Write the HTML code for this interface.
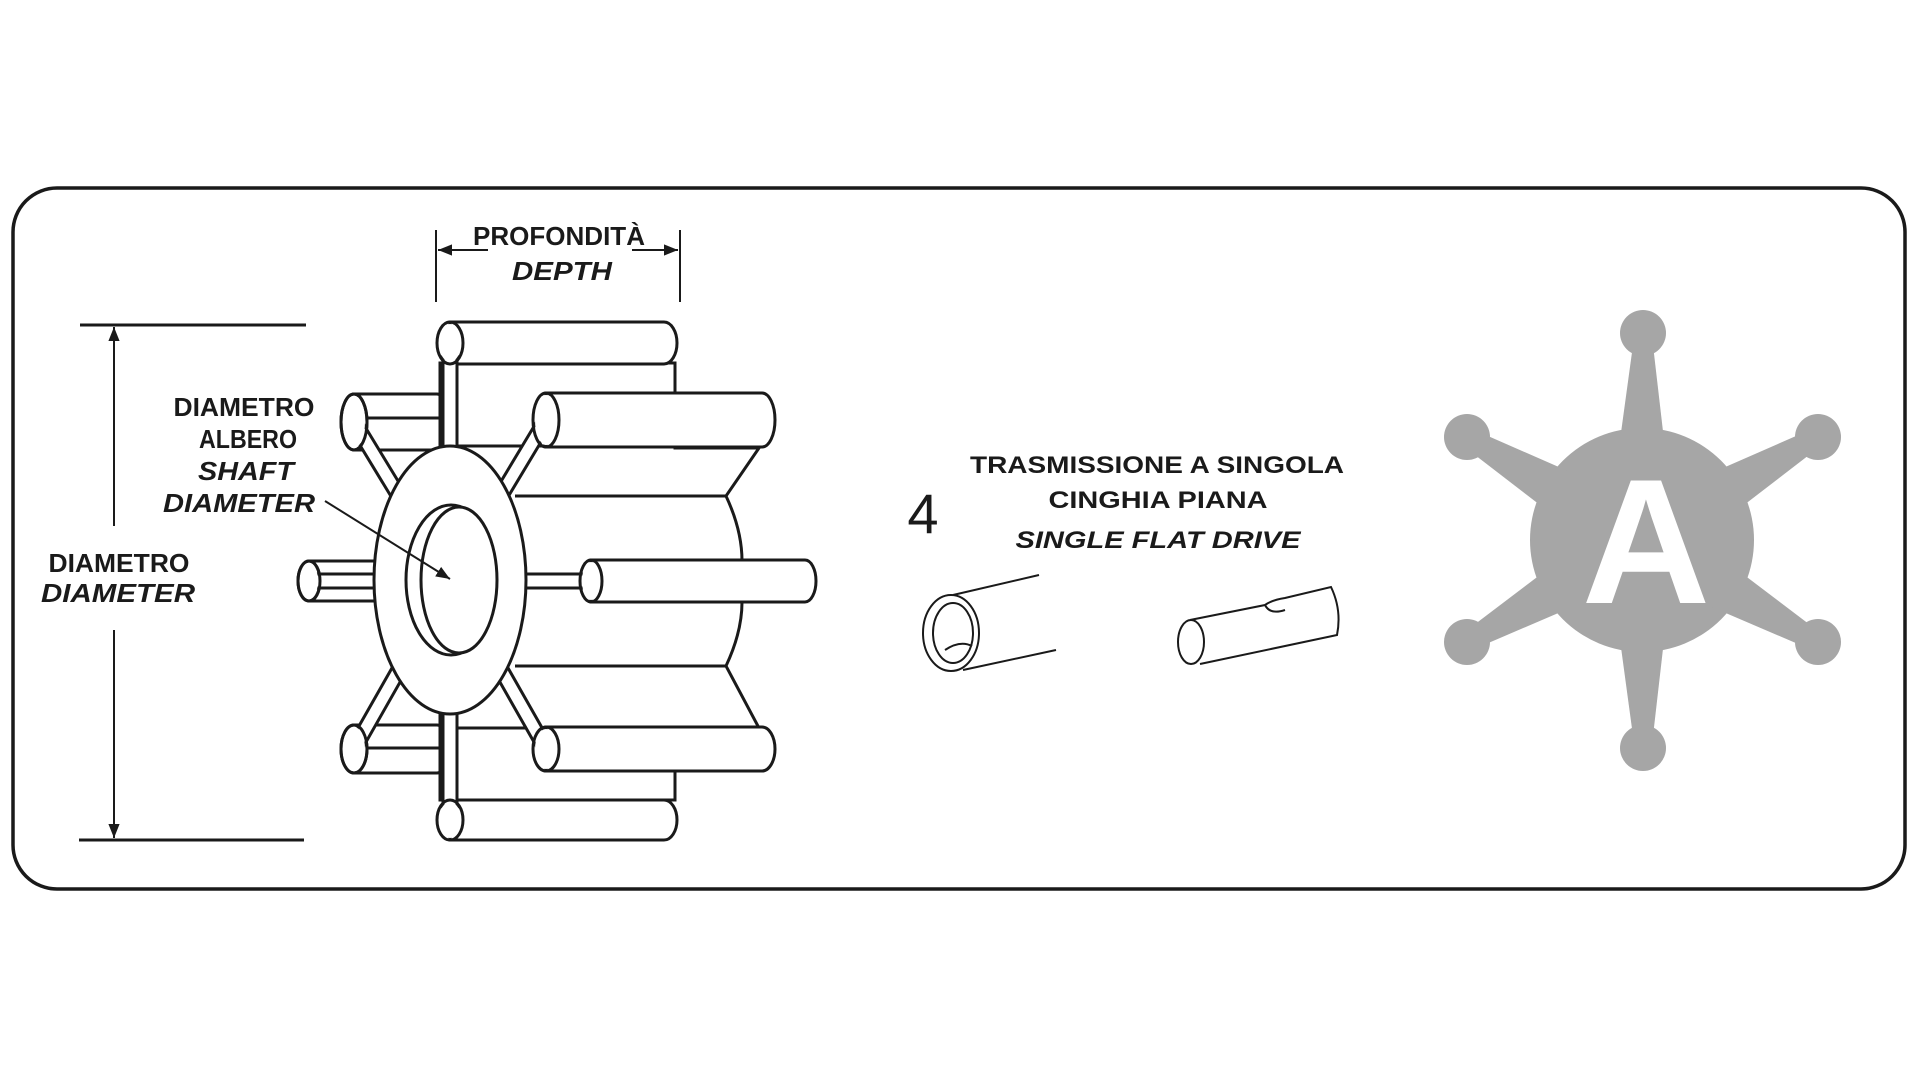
<!DOCTYPE html>
<html><head><meta charset="utf-8"><style>
html,body{margin:0;padding:0;background:#fff;}
svg{display:block;}
text{font-family:"Liberation Sans",sans-serif;font-weight:bold;fill:#1a1a1a;}
.s{fill:#fff;stroke:#1a1a1a;stroke-width:3;}
.l{stroke:#1a1a1a;stroke-width:3;fill:none;}
.t{stroke:#1a1a1a;stroke-width:2;fill:none;}
</style></head><body>
<svg width="1920" height="1080" viewBox="0 0 1920 1080" xmlns="http://www.w3.org/2000/svg">
<defs>
<marker id="ah" viewBox="0 0 10 10" refX="10" refY="5" markerWidth="7" markerHeight="7" orient="auto-start-reverse"><path d="M0,1 L10,5 L0,9 Z" fill="#1a1a1a"/></marker>
</defs>
<rect x="13" y="188" width="1892" height="701" rx="44" fill="#fff" stroke="#1a1a1a" stroke-width="3.5"/>

<!-- depth dimension -->
<line class="t" x1="436" y1="230" x2="436" y2="302"/>
<line class="t" x1="680" y1="230" x2="680" y2="302"/>
<line class="t" x1="488" y1="250" x2="438" y2="250" marker-end="url(#ah)"/>
<line class="t" x1="632" y1="250" x2="678" y2="250" marker-end="url(#ah)"/>
<text x="559" y="245" font-size="26" text-anchor="middle" textLength="172" lengthAdjust="spacingAndGlyphs">PROFONDITÀ</text>
<text x="562" y="280" font-size="26" font-style="italic" text-anchor="middle" textLength="100" lengthAdjust="spacingAndGlyphs">DEPTH</text>

<!-- diameter dimension -->
<line class="l" x1="80" y1="325" x2="306" y2="325"/>
<line class="l" x1="79" y1="840" x2="304" y2="840"/>
<line class="t" x1="114" y1="526" x2="114" y2="327" marker-end="url(#ah)"/>
<line class="t" x1="114" y1="630" x2="114" y2="838" marker-end="url(#ah)"/>
<text x="119" y="572" font-size="26" text-anchor="middle" textLength="141" lengthAdjust="spacingAndGlyphs">DIAMETRO</text>
<text x="118" y="602" font-size="26" font-style="italic" text-anchor="middle" textLength="154" lengthAdjust="spacingAndGlyphs">DIAMETER</text>

<!-- shaft label -->
<text x="244" y="416" font-size="26" text-anchor="middle" textLength="141" lengthAdjust="spacingAndGlyphs">DIAMETRO</text>
<text x="248" y="448" font-size="26" text-anchor="middle" textLength="98" lengthAdjust="spacingAndGlyphs">ALBERO</text>
<text x="246" y="480" font-size="26" font-style="italic" text-anchor="middle" textLength="96" lengthAdjust="spacingAndGlyphs">SHAFT</text>
<text x="239" y="512" font-size="26" font-style="italic" text-anchor="middle" textLength="152" lengthAdjust="spacingAndGlyphs">DIAMETER</text>

<!-- impeller: back blades -->
<path class="s" d="M354,394 H437 A13 28 0 0 1 437,450 H354 Z"/>
<ellipse class="s" cx="354" cy="422" rx="13" ry="28"/>
<line class="l" x1="366" y1="418" x2="450" y2="418"/>
<path class="s" d="M354,725 H437 A13 24 0 0 1 437,773 H354 Z"/>
<ellipse class="s" cx="354" cy="749" rx="13" ry="24"/>
<line class="l" x1="366" y1="748" x2="450" y2="748"/>
<path class="s" d="M309,561 H380 V601 H309 Z"/>
<ellipse class="s" cx="309" cy="581" rx="11" ry="20"/>

<!-- body -->
<path class="s" d="M440,363 H675 V448 H759 L726,496 Q742,530 742,561 L742,602 Q742,632 726,666 L759,728 H675 V800 H440 Z"/>
<line class="l" x1="458" y1="446" x2="675" y2="446"/>
<line class="l" x1="458" y1="728" x2="675" y2="728"/>
<line class="l" x1="515" y1="496" x2="726" y2="496"/>
<line class="l" x1="515" y1="666" x2="726" y2="666"/>

<!-- front blades -->
<path class="s" d="M450,322 H664 A13 21 0 0 1 664,364 H450 Z"/>
<path class="s" d="M450,800 H664 A13 20 0 0 1 664,840 H450 Z"/>
<path class="s" d="M546,393 H762 A13 27 0 0 1 762,447 H546 Z"/>
<path class="s" d="M546,727 H762 A13 22 0 0 1 762,771 H546 Z"/>
<path class="s" d="M591,560 H805 A11 21 0 0 1 805,602 H591 Z"/>

<!-- spokes -->
<g stroke-linecap="round">
<g stroke="#1a1a1a" stroke-width="17">
<line x1="450" y1="343" x2="450" y2="580"/>
<line x1="450" y1="820" x2="450" y2="580"/>
<line x1="309" y1="581" x2="450" y2="581"/>
<line x1="591" y1="581" x2="450" y2="581"/>
<line x1="354" y1="422" x2="450" y2="580"/>
<line x1="546" y1="420" x2="450" y2="580"/>
<line x1="354" y1="749" x2="450" y2="580"/>
<line x1="546" y1="749" x2="450" y2="580"/>
</g>
<g stroke="#fff" stroke-width="11">
<line x1="450" y1="343" x2="450" y2="580"/>
<line x1="450" y1="820" x2="450" y2="580"/>
<line x1="309" y1="581" x2="450" y2="581"/>
<line x1="591" y1="581" x2="450" y2="581"/>
<line x1="354" y1="422" x2="450" y2="580"/>
<line x1="546" y1="420" x2="450" y2="580"/>
<line x1="354" y1="749" x2="450" y2="580"/>
<line x1="546" y1="749" x2="450" y2="580"/>
</g>
</g>
<g fill="none" stroke="#1a1a1a" stroke-width="3">
<ellipse cx="450" cy="343" rx="13" ry="21"/>
<ellipse cx="450" cy="820" rx="13" ry="20"/>
<ellipse cx="546" cy="420" rx="13" ry="27"/>
<ellipse cx="546" cy="749" rx="13" ry="22"/>
<ellipse cx="591" cy="581" rx="11" ry="21"/>
<ellipse cx="354" cy="422" rx="13" ry="28"/>
<ellipse cx="354" cy="749" rx="13" ry="24"/>
<ellipse cx="309" cy="581" rx="11" ry="20"/>
</g>
<g fill="#fff">
<ellipse cx="450" cy="343" rx="11" ry="19"/>
<ellipse cx="450" cy="820" rx="11" ry="18"/>
<ellipse cx="546" cy="420" rx="11" ry="25"/>
<ellipse cx="546" cy="749" rx="11" ry="20"/>
<ellipse cx="591" cy="581" rx="9" ry="19"/>
<ellipse cx="354" cy="422" rx="11" ry="26"/>
<ellipse cx="354" cy="749" rx="11" ry="22"/>
<ellipse cx="309" cy="581" rx="9" ry="18"/>
</g>

<!-- hub -->
<ellipse class="s" cx="450" cy="580" rx="76" ry="134"/>
<ellipse class="s" cx="451" cy="580" rx="45" ry="75"/>
<ellipse class="s" cx="459" cy="580" rx="38" ry="73"/>
<line class="t" x1="325" y1="501" x2="450" y2="579" marker-end="url(#ah)"/>

<!-- middle -->
<text x="923" y="533" font-size="56" text-anchor="middle" style="font-weight:normal">4</text>
<text x="1157" y="473" font-size="24" text-anchor="middle" textLength="374" lengthAdjust="spacingAndGlyphs">TRASMISSIONE A SINGOLA</text>
<text x="1158" y="508" font-size="24" text-anchor="middle" textLength="219" lengthAdjust="spacingAndGlyphs">CINGHIA PIANA</text>
<text x="1158" y="548" font-size="24" font-style="italic" text-anchor="middle" textLength="285" lengthAdjust="spacingAndGlyphs">SINGLE FLAT DRIVE</text>

<!-- tubes -->
<g class="t" stroke-width="2.2">
<ellipse cx="951" cy="633" rx="28" ry="38"/>
<ellipse cx="953" cy="633" rx="20" ry="30"/>
<path d="M953,595 L1039,575"/>
<path d="M963,670 L1056,650"/>
<path d="M945,650 Q960,640 972,646"/>
<ellipse cx="1191" cy="642" rx="13" ry="22"/>
<path d="M1190,620 L1265,605 Q1272,600 1285,598 L1331,587 Q1342,610 1337,635 L1200,664"/>
<path d="M1265,605 Q1270,615 1285,610"/>
</g>

<!-- star -->
<g fill="#a6a6a6">
<circle cx="1642" cy="540" r="112"/>
<polygon points="1620,440 1664,440 1653,345 1633,345"/>
<polygon points="1620,640 1664,640 1653,736 1633,736"/>
<circle cx="1643" cy="333" r="23"/>
<circle cx="1643" cy="748" r="23"/>
<polygon points="1577,475 1553,515 1462,445 1472,429"/>
<polygon points="1707,475 1731,515 1822,445 1812,429"/>
<polygon points="1577,605 1553,565 1462,634 1472,650"/>
<polygon points="1707,605 1731,565 1822,634 1812,650"/>
<circle cx="1467" cy="437" r="23"/>
<circle cx="1818" cy="437" r="23"/>
<circle cx="1467" cy="642" r="23"/>
<circle cx="1818" cy="642" r="23"/>
</g>
<text x="1646" y="603" font-size="178" text-anchor="middle" style="fill:#fff">A</text>
</svg>
</body></html>
